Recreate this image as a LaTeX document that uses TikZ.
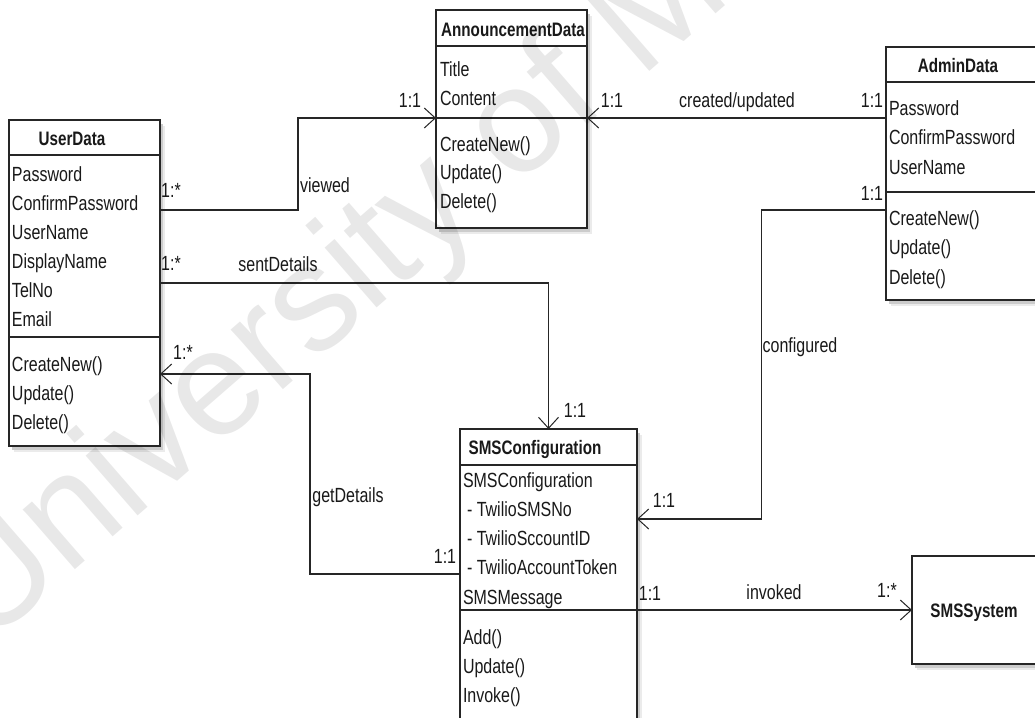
\documentclass[tikz,border=0pt]{standalone}
\usepackage{fontspec}
\setmainfont{Liberation Sans}[FakeStretch=0.78]
\newfontfamily\markfont{Liberation Sans}
\usetikzlibrary{arrows.meta,calc,shadows}

\tikzset{
  txt/.style={inner sep=0pt, outer sep=0pt, font=\fontsize{20.5}{24}\selectfont, text=black!90},
  member/.style={txt, anchor=base west},
  ctitle/.style={txt, anchor=base, font=\fontsize{19.5}{24}\selectfont\bfseries},
  mult/.style={txt, anchor=base},
  classbox/.style={draw=black!85, line width=1.4pt, fill=white, anchor=north west,
    inner sep=0pt, outer sep=0pt,
    drop shadow={shadow xshift=5pt, shadow yshift=-6pt, fill=black!8, opacity=1},
    drop shadow={shadow xshift=3pt, shadow yshift=-4pt, fill=black!20, opacity=1}},
  divider/.style={draw=black!85, line width=1.4pt},
  assoc/.style={draw=black!85, line width=1.3pt,
    -{Straight Barb[length=11pt,width=20pt,line width=1pt]}},
  markstyle/.style={rotate=41, anchor=base west, inner sep=0pt,
    font=\markfont\fontsize{150}{150}\selectfont, text=black, text opacity=0.09},
}

\begin{document}
\begin{tikzpicture}[x=1pt,y=-1pt]
\useasboundingbox (0,0) rectangle (1035,717);
\fill[white] (0,0) rectangle (1035,717);
\clip (0,0) rectangle (1035,717);

% class boxes
\node[classbox, minimum width=151pt, minimum height=326pt] (user) at (9,120) {};
\node[classbox, minimum width=151pt, minimum height=218pt] (ann) at (436,10) {};
\node[classbox, minimum width=152pt, minimum height=253pt] (admin) at (886,47) {};
\node[classbox, minimum width=177pt, minimum height=310pt] (sms) at (460,429) {};
\node[classbox, minimum width=126pt, minimum height=108pt] (smssys) at (912,556) {};

% compartment dividers
\foreach \n/\a/\b in {user/35/217, ann/36/108, admin/35/145, sms/36/181}{
  \draw[divider] ([yshift=-\a pt]\n.north west) -- ([yshift=-\a pt]\n.north east);
  \draw[divider] ([yshift=-\b pt]\n.north west) -- ([yshift=-\b pt]\n.north east);
}

% class names
\node[ctitle] (user-t) at (72,145) {UserData};
\node[ctitle] (ann-t) at (513,37) {AnnouncementData};
\node[ctitle] (admin-t) at (958,72) {AdminData};
\node[ctitle] (sms-t) at (535,454) {SMSConfiguration};
\node[ctitle] (smssys-t) at (974,617) {SMSSystem};

% members
\foreach \t [count=\i from 0] in {Password,ConfirmPassword,UserName,DisplayName,TelNo,Email}
  \node[member] (user-a\i) at (12,{181+29.1*\i}) {\t};
\foreach \t [count=\i from 0] in {CreateNew(),Update(),Delete()}
  \node[member] (user-m\i) at (12,{371+29*\i}) {\t};

\foreach \t [count=\i from 0] in {Title,Content}
  \node[member] (ann-a\i) at (440,{77+28*\i}) {\t};
\foreach \t [count=\i from 0] in {CreateNew(),Update(),Delete()}
  \node[member] (ann-m\i) at (440,{151+28.5*\i}) {\t};

\foreach \t [count=\i from 0] in {Password,ConfirmPassword,UserName}
  \node[member] (admin-a\i) at (889,{115+29.5*\i}) {\t};
\foreach \t [count=\i from 0] in {CreateNew(),Update(),Delete()}
  \node[member] (admin-m\i) at (889,{225+29.5*\i}) {\t};

\foreach \t [count=\i from 0] in {SMSConfiguration,{\hspace{4pt}- TwilioSMSNo},{\hspace{4pt}- TwilioSccountID},{\hspace{4pt}- TwilioAccountToken},SMSMessage}
  \node[member] (sms-a\i) at (463,{487+29.3*\i}) {\t};
\foreach \t [count=\i from 0] in {Add(),Update(),Invoke()}
  \node[member] (sms-m\i) at (463,{644+29*\i}) {\t};

% connector ports
\coordinate (user-p1) at ([yshift=-90pt]user.north east);
\coordinate (user-p2) at ([yshift=-163pt]user.north east);
\coordinate (user-p3) at ([yshift=-254pt]user.north east);
\coordinate (ann-pl) at ([yshift=-108pt]ann.north west);
\coordinate (ann-pr) at ([yshift=-108pt]ann.north east);
\coordinate (admin-p1) at ([yshift=-71pt]admin.north west);
\coordinate (admin-p2) at ([yshift=-163pt]admin.north west);
\coordinate (sms-pl) at ([yshift=-145pt]sms.north west);
\coordinate (sms-pr1) at ([yshift=-90pt]sms.north east);

% associations
\draw[assoc] (user-p1) -| ($(user-p1)!0.5!(ann-pl)$) |- (ann-pl);
\draw[assoc] (admin-p1) -- (ann-pr);
\draw[assoc] (user-p2) -| (sms.north);
\draw[assoc] (sms-pl) -| ($(sms-pl)!0.5!(user-p3)$) |- (user-p3);
\draw[assoc] (admin-p2) -| ($(admin-p2)!0.5!(sms-pr1)$) |- (sms-pr1);
\draw[assoc] (sms.east |- smssys.west) -- (smssys.west);

% association labels and multiplicities
\node[mult] (l1) at (171,197) {1:*};
\node[mult] (l2) at (325,192) {viewed};
\node[mult] (l3) at (410,107) {1:1};
\node[mult] (l4) at (612,107) {1:1};
\node[mult] (l5) at (737,107) {created/updated};
\node[mult] (l6) at (872,107) {1:1};
\node[mult] (l7) at (872,200) {1:1};
\node[mult] (l8) at (171,270) {1:*};
\node[mult] (l9) at (278,271) {sentDetails};
\node[mult] (l10) at (183,359) {1:*};
\node[mult] (l11) at (575,417) {1:1};
\node[mult] (l12) at (800,352) {configured};
\node[mult] (l13) at (348,502) {getDetails};
\node[mult] (l14) at (445,563) {1:1};
\node[mult] (l15) at (664,507) {1:1};
\node[mult] (l16) at (650,600) {1:1};
\node[mult] (l17) at (774,599) {invoked};
\node[mult] (l18) at (887,597) {1:*};

% watermark
\node[markstyle] (mark) at (-14,648) {University of Malaya};
\end{tikzpicture}
\end{document}
